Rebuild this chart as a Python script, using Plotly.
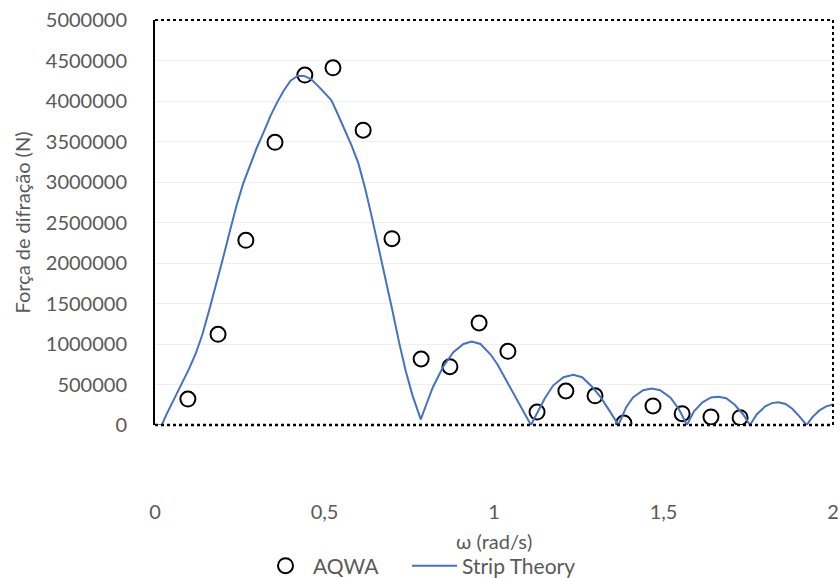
import plotly.graph_objects as go

# AQWA diffraction force results
aqwa_omega = [0.097, 0.186, 0.268, 0.354, 0.442, 0.525, 0.614, 0.699, 0.785, 0.870,
              0.956, 1.041, 1.127, 1.212, 1.298, 1.383, 1.469, 1.555, 1.640, 1.726]
aqwa_force = [320000, 1120000, 2280000, 3490000, 4320000, 4410000, 3640000, 2300000, 815000, 720000,
              1260000, 910000, 160000, 420000, 360000, 25000, 235000, 140000, 100000, 90000]

# Strip theory diffraction force curve
strip_omega = [0.01, 0.02, 0.035, 0.06, 0.08, 0.10, 0.12, 0.14, 0.16, 0.18,
               0.20, 0.22, 0.24, 0.26, 0.28, 0.30, 0.32, 0.34, 0.36, 0.38,
               0.40, 0.42, 0.44, 0.46, 0.48, 0.50, 0.52, 0.54, 0.56, 0.58,
               0.60, 0.62, 0.64, 0.66, 0.68, 0.70, 0.72, 0.74, 0.76, 0.784,
               0.80, 0.82, 0.85, 0.88, 0.91, 0.934, 0.96, 0.99, 1.01, 1.05, 1.08, 1.109,
               1.13, 1.15, 1.175, 1.205, 1.234, 1.26, 1.29, 1.315, 1.34, 1.367,
               1.39, 1.41, 1.44, 1.465, 1.49, 1.52, 1.545, 1.569,
               1.59, 1.615, 1.64, 1.662, 1.685, 1.71, 1.735, 1.755,
               1.775, 1.80, 1.82, 1.839, 1.86, 1.88, 1.90, 1.922,
               1.94, 1.96, 1.98, 2.0]
strip_force = [0, 0, 140000, 350000, 510000, 690000, 880000, 1120000, 1420000, 1720000,
               2050000, 2380000, 2700000, 2980000, 3200000, 3420000, 3610000, 3810000, 3980000, 4130000,
               4250000, 4310000, 4310000, 4270000, 4190000, 4100000, 4010000, 3830000, 3650000, 3450000,
               3230000, 2920000, 2560000, 2190000, 1810000, 1420000, 1020000, 660000, 360000, 70000,
               250000, 470000, 720000, 900000, 1000000, 1030000, 1000000, 870000, 750000, 450000, 220000, 0,
               170000, 330000, 490000, 590000, 620000, 590000, 470000, 340000, 180000, 0,
               220000, 340000, 430000, 450000, 430000, 340000, 200000, 0,
               170000, 280000, 340000, 350000, 330000, 250000, 130000, 0,
               130000, 230000, 270000, 280000, 260000, 200000, 110000, 0,
               100000, 180000, 230000, 255000]

FONT = "Lato"
GREY = "#595959"

fig = go.Figure()

fig.add_trace(go.Scatter(
    x=aqwa_omega, y=aqwa_force, name="AQWA", mode="markers", legend="legend",
    marker=dict(symbol="circle-open", size=15, color="black", line=dict(width=2, color="black")),
))

fig.add_trace(go.Scatter(
    x=strip_omega, y=strip_force, name="Strip Theory", mode="lines", legend="legend2",
    line=dict(color="#4472C4", width=2),
))

# dotted frame on top, right and along the zero line
frame = dict(color="black", width=2, dash="dot")
fig.add_shape(type="line", xref="x domain", yref="y domain", x0=0, x1=1, y0=1, y1=1, line=frame)
fig.add_shape(type="line", xref="x domain", yref="y domain", x0=1, x1=1, y0=0, y1=1, line=frame)
fig.add_shape(type="line", xref="x domain", yref="y domain", x0=0, x1=1, y0=0, y1=0,
              line=dict(color="black", width=2.5, dash="dot"))

# x-axis title placed below the tick labels
fig.add_annotation(text="ω (rad/s)", xref="x domain", yref="y domain",
                   x=0.5, y=-116 / 405, xanchor="center", yanchor="middle",
                   showarrow=False, font=dict(family=FONT, size=20, color=GREY))

legend_common = dict(orientation="h", xref="container", yref="container",
                     xanchor="left", y=1 - 566 / 578, yanchor="middle",
                     font=dict(family=FONT, size=21, color=GREY),
                     bgcolor="rgba(0,0,0,0)", itemwidth=45, tracegroupgap=0)

fig.update_layout(
    width=840, height=578,
    margin=dict(l=155, r=7, t=20, b=153, autoexpand=False),
    paper_bgcolor="white", plot_bgcolor="white",
    separators=", ",
    font=dict(family=FONT, size=20, color=GREY),
    showlegend=True,
    legend=dict(legend_common, x=258 / 840),
    legend2=dict(legend_common, x=407 / 840),
    xaxis=dict(
        range=[0, 2], tickvals=[0, 0.5, 1, 1.5, 2],
        showgrid=False, zeroline=False, showline=False, ticks="",
        automargin=False,
        ticklabelstandoff=73,
        tickfont=dict(family=FONT, size=20, color=GREY),
    ),
    yaxis=dict(
        range=[0, 5000000], dtick=500000, tickformat="d",
        showgrid=True, gridcolor="#efefef", gridwidth=1,
        zeroline=False, showline=True, linecolor="black", linewidth=2, ticks="",
        automargin=False,
        ticklabelstandoff=22,
        tickfont=dict(family=FONT, size=20, color=GREY),
        title=dict(text="Força de difração (N)", font=dict(family=FONT, size=20, color=GREY), standoff=10),
    ),
)

fig.write_html("out.html")
